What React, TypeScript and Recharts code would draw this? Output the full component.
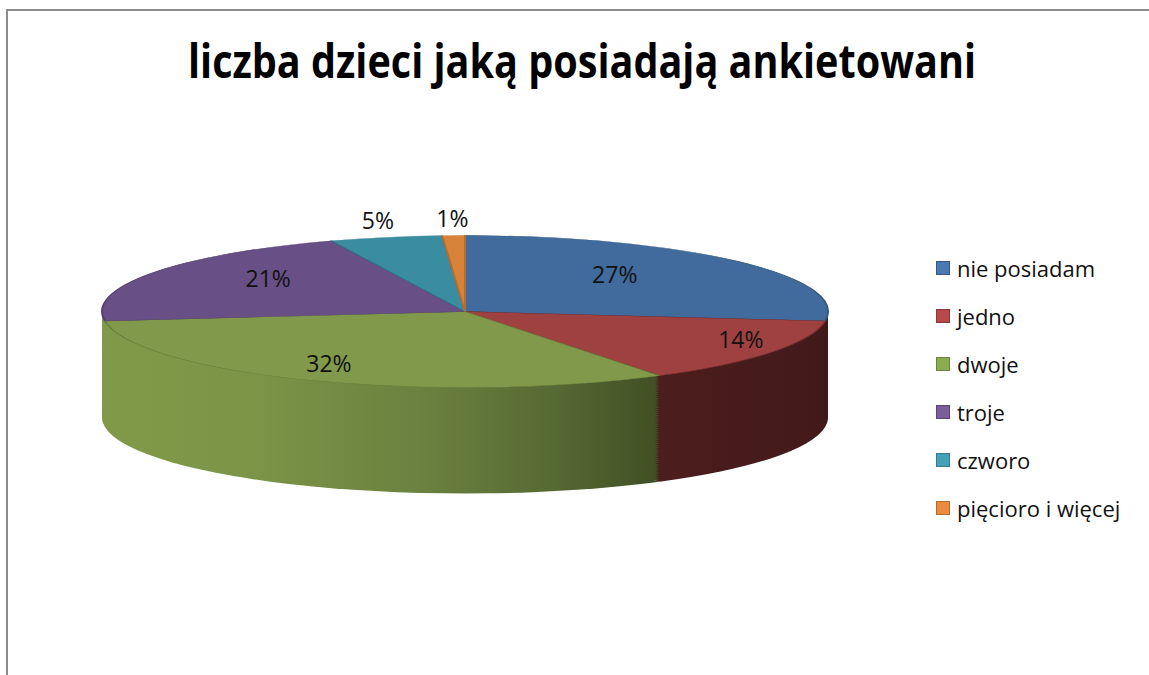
import React from 'react'
import { PieChart, Pie, Cell, Legend } from 'recharts'

const CATEGORIES = ['nie posiadam', 'jedno', 'dwoje', 'troje', 'czworo', 'pięcioro i więcej']
const VALUES = [27, 14, 32, 21, 5, 1]
const TITLE = 'liczba dzieci jaką posiadają ankietowani'

const TOP_COLORS = ['#416b9c', '#9e4140', '#80994a', '#684f86', '#3a8da0', '#d9823a']
const EDGE_COLORS = ['#35597f', '#7e3231', '#6a7f3d', '#55406e', '#2f7485', '#b86d30']
const LEGEND_COLORS = ['#4a78b0', '#b7494a', '#8bab50', '#7a5e9c', '#44a1b9', '#eb8b3d']
const LEGEND_BORDERS = ['#36598a', '#8c3535', '#6a8538', '#5b4577', '#317c8f', '#b8682a']

// side (depth) shading, light on the left and dark on the right;
// the slivers of blue and purple side at the far edges take the neighbouring tone
const SIDE_STOPS: [number, string][][] = [
  [[0, '#4a1c1c'], [1, '#421919']],
  [[0, '#7c302f'], [0.8, '#4b1d1d'], [1, '#421919']],
  [[0, '#809a49'], [0.21, '#7b9446'], [0.45, '#6a803f'], [0.62, '#566a33'], [0.79, '#3d4b22'], [1, '#34411d']],
  [[0, '#809a49'], [1, '#7b9446']],
  [[0, '#347f90'], [1, '#1f4d58']],
  [[0, '#c47534'], [1, '#7a4720']],
]

// distance of each percentage label from the centre, as a share of the radius
const LABEL_DIST = [0.55, 0.9, 0.88, 0.63, 1.1, 1.1]

const rows = CATEGORIES.map((name, i) => ({ name, value: VALUES[i] }))

const CX = 465
const CY = 312
const RX = 363
const RY = 76
const RATIO = RY / RX
const DEPTH = 106
const LABEL_LIFT = 10

const INNER_W = 760
const INNER_CY = RX + 12
const DEPTH_U = DEPTH / RATIO
const INNER_H = INNER_CY + DEPTH_U + RX + 12
const LAYERS = 56
const layerCys = Array.from({ length: LAYERS }, (_, k) => INNER_CY + (DEPTH_U * (LAYERS - k)) / LAYERS)

const FONT = '"Open Sans", "Noto Sans", sans-serif'

function renderLabel(p: any) {
  const rad = (p.midAngle * Math.PI) / 180
  const k = LABEL_DIST[p.index]
  const x = p.cx + p.outerRadius * k * Math.cos(rad)
  const y = p.cy - LABEL_LIFT - p.outerRadius * RATIO * k * Math.sin(rad)
  return (
    <text
      x={x}
      y={y}
      textAnchor="middle"
      dominantBaseline="central"
      fill="#111"
      style={{ fontFamily: FONT, fontSize: 23 }}
    >
      {`${Math.round(p.percent * 100)}%`}
    </text>
  )
}

function renderLegend() {
  return (
    <ul style={{ listStyle: 'none', margin: 0, padding: 0 }}>
      {rows.map((entry, i) => (
        <li key={entry.name} style={{ display: 'flex', alignItems: 'center', height: 48 }}>
          <span
            style={{
              width: 12,
              height: 12,
              background: LEGEND_COLORS[i],
              border: `1.5px solid ${LEGEND_BORDERS[i]}`,
              marginRight: 7,
              flexShrink: 0,
            }}
          />
          <span style={{ fontFamily: FONT, fontSize: 22, color: '#111', whiteSpace: 'nowrap' }}>{entry.name}</span>
        </li>
      ))}
    </ul>
  )
}

export default function App() {
  return (
    <div
      style={{
        position: 'absolute',
        left: 0,
        top: 0,
        width: 1149,
        height: 675,
        overflow: 'hidden',
        background: '#fff',
      }}
    >
      <div
        style={{
          position: 'absolute',
          left: 6,
          top: 9,
          width: 1300,
          height: 900,
          borderLeft: '2px solid #8c8c8c',
          borderTop: '2px solid #8c8c8c',
        }}
      />
      <svg width={1149} height={110} style={{ position: 'absolute', left: 0, top: 0 }}>
        <text
          x={582}
          y={78}
          textAnchor="middle"
          textLength={788}
          lengthAdjust="spacingAndGlyphs"
          fill="#000"
          style={{ fontFamily: FONT, fontSize: 46, fontWeight: 700 }}
        >
          {TITLE}
        </text>
      </svg>

      <div
        style={{
          position: 'absolute',
          left: CX - INNER_W / 2,
          top: CY - INNER_CY * RATIO,
          width: INNER_W,
          height: INNER_H,
          transform: `scaleY(${RATIO})`,
          transformOrigin: '0 0',
        }}
      >
        <PieChart width={INNER_W} height={INNER_H} margin={{ top: 0, right: 0, bottom: 0, left: 0 }}>
          <defs>
            {SIDE_STOPS.map((stops, i) => (
              <linearGradient
                key={i}
                id={`side${i}`}
                gradientUnits="userSpaceOnUse"
                x1={INNER_W / 2 - RX}
                y1={0}
                x2={INNER_W / 2 + RX}
                y2={0}
              >
                {stops.map(([o, c], j) => (
                  <stop key={j} offset={o} stopColor={c} />
                ))}
              </linearGradient>
            ))}
          </defs>
          {layerCys.map((cy, k) => (
            <Pie
              key={`layer${k}`}
              data={rows}
              dataKey="value"
              nameKey="name"
              cx={INNER_W / 2}
              cy={cy}
              outerRadius={RX}
              startAngle={90}
              endAngle={-270}
              stroke="none"
              legendType="none"
              isAnimationActive={false}
            >
              {rows.map((r, i) => (
                <Cell key={r.name} fill={`url(#side${i})`} />
              ))}
            </Pie>
          ))}
          <Pie
            data={rows}
            dataKey="value"
            nameKey="name"
            cx={INNER_W / 2}
            cy={INNER_CY}
            outerRadius={RX}
            startAngle={90}
            endAngle={-270}
            legendType="none"
            isAnimationActive={false}
          >
            {rows.map((r, i) => (
              <Cell key={r.name} fill={TOP_COLORS[i]} stroke={EDGE_COLORS[i]} strokeWidth={2} />
            ))}
          </Pie>
        </PieChart>
      </div>

      <div style={{ position: 'absolute', left: 0, top: 0 }}>
        <PieChart width={1149} height={675} margin={{ top: 0, right: 0, bottom: 0, left: 0 }}>
          <Pie
            data={rows}
            dataKey="value"
            nameKey="name"
            cx={CX}
            cy={CY}
            outerRadius={RX}
            startAngle={90}
            endAngle={-270}
            stroke="none"
            legendType="square"
            label={renderLabel}
            labelLine={false}
            isAnimationActive={false}
          >
            {rows.map((r, i) => (
              <Cell key={r.name} fill={LEGEND_COLORS[i]} fillOpacity={0} />
            ))}
          </Pie>
          <Legend
            layout="vertical"
            content={renderLegend}
            wrapperStyle={{ left: 936, top: 244, width: 220 }}
          />
        </PieChart>
      </div>
    </div>
  )
}
